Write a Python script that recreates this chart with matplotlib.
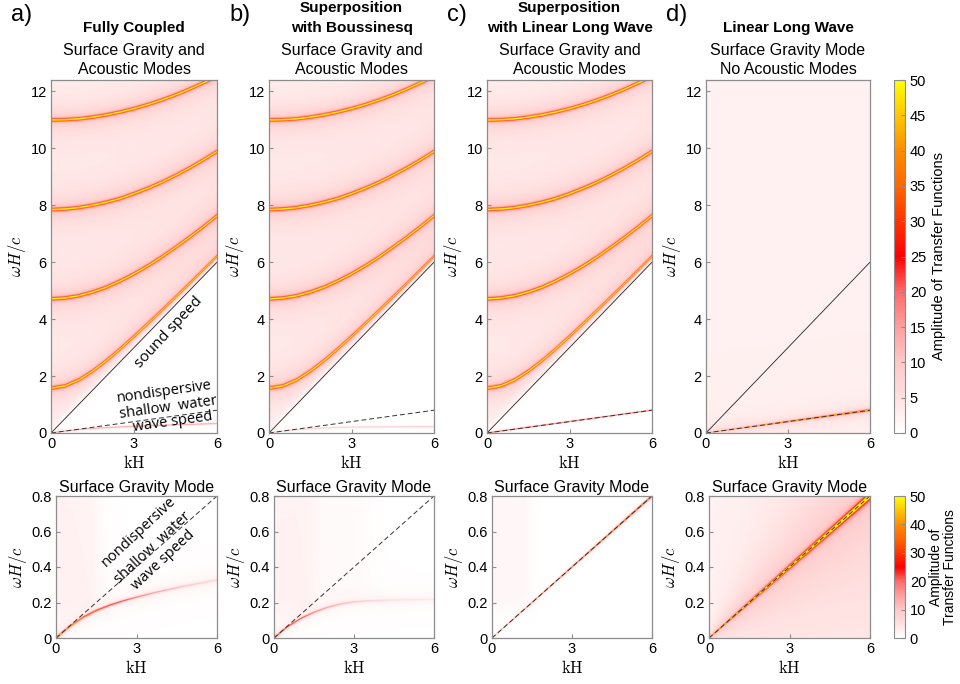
import numpy as np
import matplotlib
matplotlib.use("Agg")
import matplotlib.pyplot as plt
from matplotlib.colors import LinearSegmentedColormap

plt.rcParams["font.family"] = ["Liberation Sans", "DejaVu Sans"]
plt.rcParams["mathtext.fontset"] = "cm"

# values
kh_pts = [0, 0.5, 1, 1.5, 2, 2.5, 3, 3.5, 4, 4.5, 5, 5.5, 6]
mode1 = [1.57, 1.65, 1.86, 2.17, 2.54, 2.95, 3.39, 3.84, 4.30, 4.77, 5.24, 5.72, 6.20]
mode2 = [4.71, 4.74, 4.82, 4.95, 5.12, 5.34, 5.59, 5.87, 6.18, 6.52, 6.87, 7.24, 7.63]
mode3 = [7.85, 7.87, 7.92, 8.00, 8.11, 8.24, 8.41, 8.60, 8.81, 9.05, 9.31, 9.59, 9.89]
mode4 = [11.00, 11.01, 11.04, 11.10, 11.18, 11.28, 11.40, 11.54, 11.70, 11.88, 12.08, 12.30, 12.53]
grav_full = [0, 0.064, 0.116, 0.155, 0.185, 0.209, 0.230, 0.249, 0.267, 0.283, 0.298, 0.313, 0.327]
grav_bouss = [0, 0.063, 0.110, 0.145, 0.172, 0.192, 0.203, 0.209, 0.212, 0.214, 0.215, 0.216, 0.216]
sound_end = 6.0      # sound speed line reaches 6 at kH = 6
shallow_end = 0.8    # shallow water line reaches 0.8 at kH = 6

# title lines: (text, bold, y position in px from the top)
titles = [
    [("Fully Coupled", True, 28), ("Surface Gravity and", False, 50), ("Acoustic Modes", False, 70)],
    [("Superposition", True, 8), ("with Boussinesq", True, 28),
     ("Surface Gravity and", False, 50), ("Acoustic Modes", False, 70)],
    [("Superposition", True, 8), ("with Linear Long Wave", True, 28),
     ("Surface Gravity and", False, 50), ("Acoustic Modes", False, 70)],
    [("Linear Long Wave", True, 28), ("Surface Gravity Mode", False, 50), ("No Acoustic Modes", False, 70)],
]
letters = ["a)", "b)", "c)", "d)"]

cmap = LinearSegmentedColormap.from_list("tf", [
    (0.0, (1, 1, 1)), (0.1, (1, 0.88, 0.88)), (0.2, (1, 0.78, 0.78)),
    (0.3, (1, 0.62, 0.62)), (0.4, (1, 0.42, 0.42)), (0.5, (1, 0, 0)),
    (0.7, (1, 0.4, 0)), (0.8, (1, 0.55, 0)), (1.0, (1, 1, 0))])


def ridge(w, centre, width, peak, tail=0.0, tail_width=1.0):
    d = w - centre
    return peak / (1 + (d / width) ** 2) + tail / np.sqrt(1 + (d / tail_width) ** 2)


def soft(x, s):
    return 1 / (1 + np.exp(-x / s))


k = np.linspace(0, 6, 600)
K, W = np.meshgrid(k, np.linspace(0, 12.4, 1200))
Kb, Wb = np.meshgrid(k, np.linspace(0, 0.8, 700))
shallow = shallow_end / 6 * K
shallow_b = shallow_end / 6 * Kb

acoustic = sum(ridge(W, np.interp(K, kh_pts, m), 0.022, 85, 5, 0.3)
               for m in [mode1, mode2, mode3, mode4])
above = soft(W - sound_end / 6 * K - 0.1, 0.12)
acoustic_field = above * (1.4 + acoustic)

top_fields = [
    acoustic_field + ridge(W, np.interp(K, kh_pts, grav_full), 0.01, 22),
    acoustic_field + ridge(W, np.interp(K, kh_pts, grav_bouss), 0.01, 14),
    acoustic_field + ridge(W, shallow, 0.01, 30),
    2.2 + ridge(W, shallow, 0.002 * K + 0.003, 60, 4, 0.1),
]

left_pink = 1.3 * soft(1.5 - Kb, 0.12) * soft(Wb - 0.15, 0.03)
bot_fields = [
    left_pink + 0.8 * soft(Wb - np.interp(Kb, kh_pts, grav_full), 0.01) * soft(1.8 - Kb, 0.3)
    + ridge(Wb, np.interp(Kb, kh_pts, grav_full), 0.003, 60 * np.exp(-Kb / 2.8), 2, 0.02),
    left_pink + 0.8 * soft(Wb - np.interp(Kb, kh_pts, grav_bouss), 0.01) * soft(3.6 - Kb, 0.3)
    + ridge(Wb, np.interp(Kb, kh_pts, grav_bouss), 0.003, 38 * np.exp(-Kb / 2.3), 1.5, 0.02),
    left_pink + ridge(Wb, shallow_b, 0.0005 * Kb + 0.0008, 45),
    2.0 + ridge(Wb, shallow_b, 0.0014 * Kb + 0.001, 90, 6, 0.05 * Kb + 0.01),
]

fig = plt.figure(figsize=(9.6, 6.84), dpi=100)
W_px, H_px = 960, 684
top_left = [51, 269, 487, 706]
bot_left = [56, 274, 492, 709]
right = [217, 434, 652, 870]
edge = "#8c8c8c"


def style(ax):
    for s in ax.spines.values():
        s.set_color(edge)
        s.set_linewidth(0.9)
    ax.tick_params(direction="in", length=3, color=edge, labelsize=10.5, pad=3)


for i in range(4):
    # top panel
    ax = fig.add_axes([top_left[i] / W_px, 1 - 433 / H_px,
                       (right[i] - top_left[i]) / W_px, 353 / H_px])
    im = ax.imshow(top_fields[i], extent=[0, 6, 0, 12.4], origin="lower",
                   aspect="auto", cmap=cmap, vmin=0, vmax=50, interpolation="bilinear")
    ax.plot([0, 6], [0, sound_end], color="#222222", lw=0.6)
    ax.plot([0, 6], [0, shallow_end], color="#333333", lw=0.7, ls=(0, (5, 3)))
    ax.set_xlim(0, 6)
    ax.set_ylim(0, 12.4)
    ax.set_xticks([0, 3, 6])
    ax.set_yticks([0, 2, 4, 6, 8, 10, 12])
    ax.set_xlabel(r"$\mathrm{kH}$", fontsize=12, labelpad=2)
    ax.set_ylabel(r"$\omega H/c$", fontsize=12, labelpad=2)
    style(ax)
    cx = (top_left[i] + right[i]) / 2 / W_px
    for txt, bold, ypx in titles[i]:
        fig.text(cx, 1 - ypx / H_px, txt, ha="center", va="center",
                 fontsize=11 if bold else 11.5, fontweight="bold" if bold else "normal")
    fig.text((top_left[i] - 40) / W_px, 1 - 15 / H_px, letters[i], ha="left",
             va="center", fontsize=17)

    # bottom panel
    axb = fig.add_axes([bot_left[i] / W_px, 1 - 638 / H_px,
                        (right[i] - bot_left[i]) / W_px, 142 / H_px])
    imb = axb.imshow(bot_fields[i], extent=[0, 6, 0, 0.8], origin="lower",
                     aspect="auto", cmap=cmap, vmin=0, vmax=50, interpolation="bilinear")
    axb.plot([0, 6], [0, shallow_end], color="#333333", lw=0.7, ls=(0, (5, 3)))
    axb.set_xlim(0, 6)
    axb.set_ylim(0, 0.8)
    axb.set_xticks([0, 3, 6])
    axb.set_yticks([0, 0.2, 0.4, 0.6, 0.8])
    axb.set_yticklabels(["0", "0.2", "0.4", "0.6", "0.8"])
    axb.set_xlabel(r"$\mathrm{kH}$", fontsize=12, labelpad=2)
    axb.set_ylabel(r"$\omega H/c$", fontsize=12, labelpad=2)
    axb.set_title("Surface Gravity Mode", fontsize=11.5, pad=3)
    style(axb)
    if i == 0:
        ax.text(4.25, 3.55, "sound speed", rotation=47, ha="center", va="center",
                fontsize=11, family="Open Sans")
        ax.text(4.1, 1.45, "nondispersive", rotation=8, ha="center", va="center",
                fontsize=10.5, family="Open Sans")
        ax.text(4.25, 0.9, "shallow  water", rotation=8, ha="center", va="center",
                fontsize=10.5, family="Open Sans")
        ax.text(4.4, 0.38, "wave speed", rotation=8, ha="center", va="center",
                fontsize=10.5, family="Open Sans")
        axb.text(3.1, 0.6, "nondispersive", rotation=43, ha="center", va="center",
                 fontsize=10.5, family="Open Sans")
        axb.text(3.6, 0.51, "shallow  water", rotation=43, ha="center", va="center",
                 fontsize=10.5, family="Open Sans")
        axb.text(4.0, 0.44, "wave speed", rotation=43, ha="center", va="center",
                 fontsize=10.5, family="Open Sans")

# colorbars
cax = fig.add_axes([894 / W_px, 1 - 433 / H_px, 11 / W_px, 353 / H_px])
cb = fig.colorbar(im, cax=cax, ticks=range(0, 51, 5))
cb.set_label("Amplitude of Transfer Functions", fontsize=10.5, labelpad=4)
cb.outline.set_edgecolor(edge)
cax.tick_params(direction="in", length=3, color=edge, labelsize=10.5)

caxb = fig.add_axes([894 / W_px, 1 - 638 / H_px, 11 / W_px, 142 / H_px])
cbb = fig.colorbar(imb, cax=caxb, ticks=range(0, 51, 10))
cbb.set_label("Amplitude of\nTransfer Functions", fontsize=10, labelpad=2, linespacing=1.0)
cbb.outline.set_edgecolor(edge)
caxb.tick_params(direction="in", length=3, color=edge, labelsize=10.5)

fig.savefig("out.png", dpi=100)
